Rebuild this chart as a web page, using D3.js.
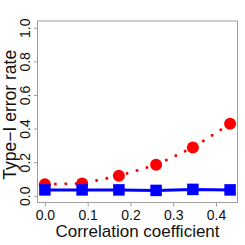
<!DOCTYPE html>
<html><head><meta charset="utf-8">
<script src="https://cdn.jsdelivr.net/npm/d3@7"></script>
<style>body{margin:0;background:#fff}svg{display:block}text{font-family:"Liberation Sans",Arial,sans-serif}</style>
</head><body><svg id="c" width="245" height="245"></svg>
<script>
const xValues = [0, 0.087, 0.173, 0.26, 0.346, 0.433];
const redSeries = [0.069, 0.073, 0.119, 0.184, 0.287, 0.428];
const blueSeries = [0.035, 0.035, 0.035, 0.032, 0.038, 0.035];
const xTicks = [0, 0.1, 0.2, 0.3, 0.4];
const yTicks = [0, 0.2, 0.4, 0.6, 0.8, 1.0];
const xTitle = "Correlation coefficient";
const yTitle = "Type\u2212I error rate";

const svg = d3.select("#c");
const x = d3.scaleLinear().domain([-0.0173, 0.4503]).range([37.5, 237.5]);
const y = d3.scaleLinear().domain([-0.04, 1.04]).range([202.5, 21]);

// box
svg.append("rect").attr("x", 37.5).attr("y", 21).attr("width", 200).attr("height", 181.5)
  .attr("fill", "none").attr("stroke", "#a0a0a0").attr("stroke-width", 1);

// x axis
const xa = svg.append("g").attr("transform", "translate(0,202.5)")
  .call(d3.axisBottom(x).tickValues(xTicks).tickFormat(d3.format(".1f")).tickSize(4).tickPadding(3.5));
xa.select(".domain").attr("stroke", "#a0a0a0").attr("d", `M${x(0)},0H${x(0.4)}`);
xa.selectAll(".tick line").attr("stroke", "#a0a0a0");
xa.selectAll("text").attr("font-size", 14).attr("fill", "#111").attr("font-family", '"Liberation Sans",Arial,sans-serif');

// y axis
const ya = svg.append("g").attr("transform", "translate(37.5,0)")
  .call(d3.axisLeft(y).tickValues(yTicks).tickFormat(d3.format(".1f")).tickSize(3.5).tickPadding(0));
ya.select(".domain").attr("stroke", "#a0a0a0").attr("d", `M0,${y(0)}V${y(1)}`);
ya.selectAll(".tick line").attr("stroke", "#a0a0a0");
ya.selectAll(".tick text").attr("x", null).attr("dy", null).attr("text-anchor", "middle")
  .attr("transform", "translate(-8,0) rotate(-90)")
  .attr("font-size", 14).attr("fill", "#111").attr("font-family", '"Liberation Sans",Arial,sans-serif');

// titles
svg.append("text").attr("x", 137.5).attr("y", 236.5).attr("text-anchor", "middle")
  .attr("font-size", 17).attr("fill", "#111").text(xTitle);
svg.append("text").attr("transform", `translate(15.5,${(y(0)+y(1))/2 + 3}) rotate(-90)`)
  .attr("text-anchor", "middle").attr("font-size", 17.5).attr("fill", "#111").text(yTitle);

// red dotted series
const line = d3.line().x((d, i) => x(xValues[i])).y(d => y(d));
svg.append("path").datum(redSeries).attr("d", line).attr("fill", "none")
  .attr("stroke", "#ff0000").attr("stroke-width", 3).attr("stroke-linecap", "round")
  .attr("stroke-dasharray", "0.01 10.4");
svg.append("g").selectAll("circle").data(redSeries).join("circle")
  .attr("cx", (d, i) => x(xValues[i])).attr("cy", d => y(d)).attr("r", 6).attr("fill", "#ff0000");

// blue solid series
svg.append("path").datum(blueSeries).attr("d", line).attr("fill", "none")
  .attr("stroke", "#0000ff").attr("stroke-width", 3);
svg.append("g").selectAll("rect").data(blueSeries).join("rect")
  .attr("x", (d, i) => x(xValues[i]) - 5.75).attr("y", d => y(d) - 5.75)
  .attr("width", 11.5).attr("height", 11.5).attr("fill", "#0000ff");
</script></body></html>
